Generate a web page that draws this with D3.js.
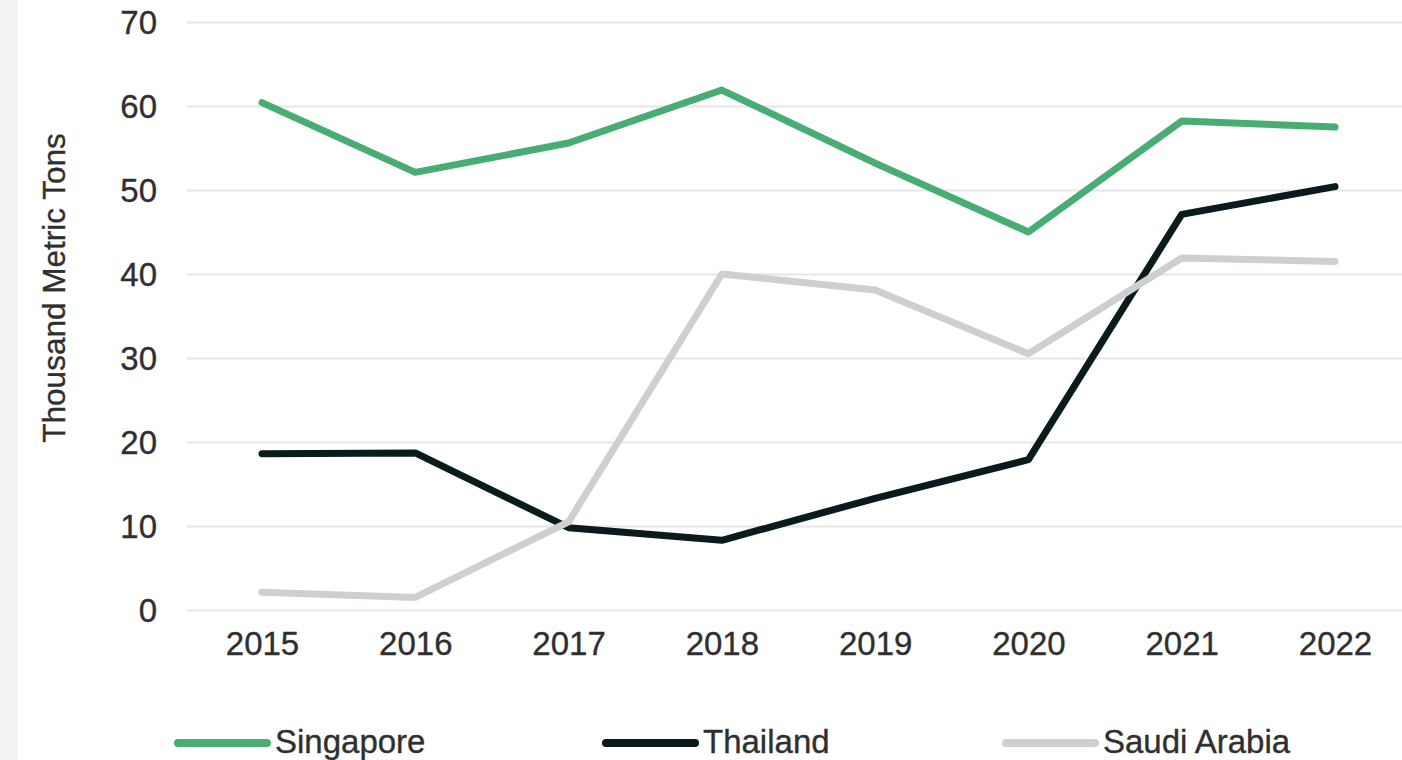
<!DOCTYPE html>
<html>
<head>
<meta charset="utf-8">
<script src="https://cdn.jsdelivr.net/npm/d3@7"></script>
<style>
  html, body { margin: 0; padding: 0; background: #ffffff; }
  svg { display: block; }
  text { font-family: "Liberation Sans", Arial, sans-serif; fill: #2f2f2f; stroke: #2f2f2f; stroke-width: 0.35px; }
</style>
</head>
<body>
<svg id="chart" width="1402" height="760"></svg>
<script>
// Years on the x axis
const years = ["2015", "2016", "2017", "2018", "2019", "2020", "2021", "2022"];

// Thousand metric tons per exporting country
const singapore = [60.4, 52.1, 55.6, 61.9, 53.2, 45.0, 58.2, 57.5];
const thailand  = [18.6, 18.7, 9.8, 8.3, 13.3, 17.9, 47.1, 50.4];
const saudi     = [2.1, 1.5, 10.5, 40.0, 38.1, 30.5, 41.9, 41.5];

const yTicks = [0, 10, 20, 30, 40, 50, 60, 70];
const seriesNames = ["Singapore", "Thailand", "Saudi Arabia"];
const seriesColors = ["#48ad72", "#0b1a1c", "#cdd0cd"];
const seriesValues = [singapore, thailand, saudi];

const svg = d3.select("#chart");

// light panel strip along the left edge
svg.append("rect").attr("x", 0).attr("y", 0).attr("width", 18).attr("height", 760).attr("fill", "#f3f3f3");

const x = d3.scalePoint().domain(years).range([262, 1335]);
const y = d3.scaleLinear().domain([0, 70]).range([610, 22]);

// horizontal gridlines
const yAxis = d3.axisLeft(y).tickValues(yTicks).tickSize(0).tickPadding(0).tickFormat(d3.format("d"));
const gy = svg.append("g").attr("transform", "translate(187,0)").call(yAxis);
gy.select(".domain").remove();
gy.selectAll(".tick line")
  .attr("x1", 0).attr("x2", 1402 - 187)
  .attr("stroke", "#e6e6e6").attr("stroke-width", 2);
gy.selectAll(".tick text")
  .attr("x", -30).attr("dy", "0.35em")
  .attr("text-anchor", "end")
  .style("font-size", "33px").style("fill", "#2f2f2f");

// x axis labels
const xAxis = d3.axisBottom(x).tickSize(0).tickPadding(0);
const gx = svg.append("g").attr("transform", "translate(0,610)").call(xAxis);
gx.select(".domain").remove();
gx.selectAll(".tick text")
  .attr("y", 45).attr("dy", 0)
  .style("font-size", "33px").style("fill", "#2f2f2f");

// axis title
svg.append("text")
  .attr("transform", "translate(65,288) rotate(-90)")
  .attr("text-anchor", "middle")
  .style("font-size", "31.5px")
  .text("Thousand Metric Tons");

// series lines
const line = d3.line().x((d, i) => x(years[i])).y(d => y(d));
seriesValues.forEach((vals, k) => {
  svg.append("path")
    .datum(vals)
    .attr("d", line)
    .attr("fill", "none")
    .attr("stroke", seriesColors[k])
    .attr("stroke-width", 7)
    .attr("stroke-linecap", "round")
    .attr("stroke-linejoin", "round");
});

// legend
const legendX = [178, 606, 1006];
const lg = svg.append("g");
seriesNames.forEach((name, k) => {
  lg.append("line")
    .attr("x1", legendX[k]).attr("x2", legendX[k] + 89)
    .attr("y1", 743).attr("y2", 743)
    .attr("stroke", seriesColors[k]).attr("stroke-width", 8)
    .attr("stroke-linecap", "round");
  lg.append("text")
    .attr("x", legendX[k] + 97).attr("y", 753)
    .style("font-size", "33px")
    .text(name);
});
</script>
</body>
</html>
